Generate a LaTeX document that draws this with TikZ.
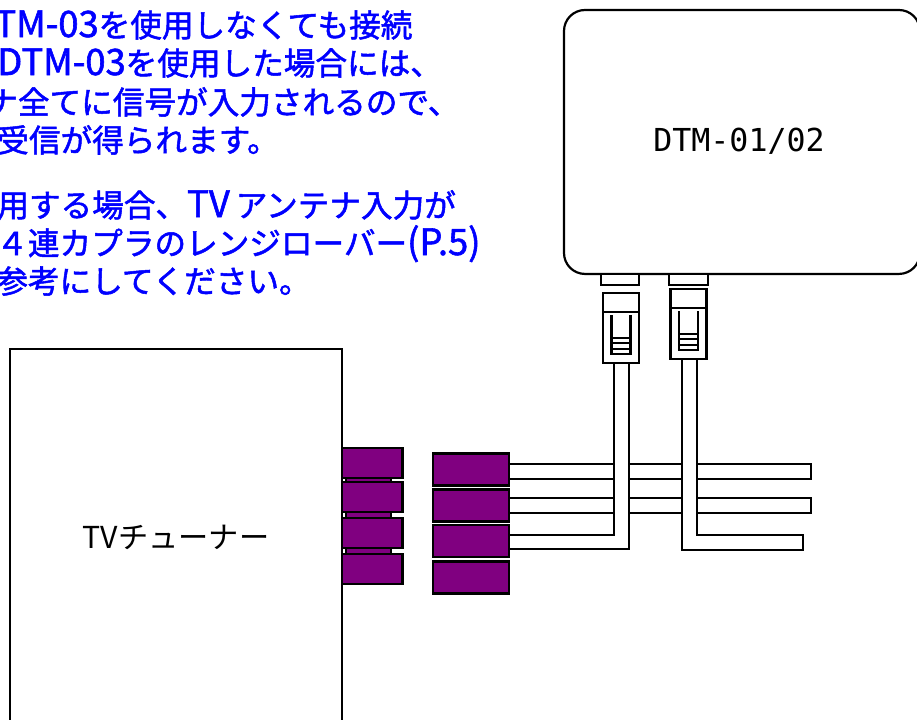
\documentclass[tikz,border=0pt]{standalone}
\usepackage{fontspec}
\setmainfont{Noto Sans CJK JP}
\newfontfamily\notefont[FakeBold=1.6]{Noto Sans CJK JP}
\newfontfamily\devicefont{DejaVu Sans Mono}

\definecolor{couplerpurple}{RGB}{128,0,128}
\definecolor{noteblue}{RGB}{0,0,255}

\newcommand{\widelatin}[1]{{\fontsize{20.7}{20}\selectfont #1}}

\tikzset{
  wire/.style={line width=1.25pt, black},
  cable/.style={wire, fill=white},
  partbox/.style={draw=black, line width=1.25pt, fill=white, inner sep=0pt, outer sep=0pt},
  coupler/.style={partbox, fill=couplerpurple},
  note/.style={anchor=base west, text=noteblue, font=\notefont\fontsize{18}{20}\selectfont, inner sep=0pt}
}

\begin{document}
\begin{tikzpicture}[x=0.02cm, y=-0.02cm]
  \useasboundingbox (0,0) rectangle (917,720);
  \clip (0,0) rectangle (917,720);

  % Notes
  \foreach \n/\xa/\ya/\txt in {
    a/-30/37/\widelatin{DTM-03}を使用しなくても接続,
    b/-3/75/\widelatin{DTM-03}を使用した場合には、,
    c/-14/114/ナ全てに信号が入力されるので、,
    d/-3/152/受信が得られます。,
    e/-3/217/用する場合、\widelatin{TV}\hspace{3.4pt}アンテナ入力が,
    f/-4/255/４連カプラのレンジローバー\widelatin{(P.5)},
    g/-4/293/参考にしてください。}
    \node[note] (note\n) at (\xa,\ya) {\txt};

  % TV tuner
  \node[partbox, line width=0.9pt, minimum width=6.64cm, minimum height=8cm, anchor=north west] (tuner) at (10,349) {};
  \node[font=\fontsize{17.2}{18}\selectfont] (tunerlabel) at (176,537) {TVチューナー};

  % DTM unit
  \node[partbox, rounded corners=0.42cm, minimum width=7.12cm, minimum height=5.28cm, anchor=north west] (unit) at (564,10) {};
  \node[font=\devicefont\fontsize{18}{20}\selectfont] (unitlabel) at (739,141) {DTM-01/02};

  % Cable ends
  \coordinate (sideAt) at (811,464);
  \coordinate (sideAb) at (509,479);
  \coordinate (sideBt) at (811,498);
  \coordinate (sideBb) at (509,513);
  \coordinate (cableAl) at (614,363);
  \coordinate (cableAr) at (629,363);
  \coordinate (cableBl) at (682,359);
  \coordinate (cableBr) at (697,359);
  \coordinate (cableAu) at (509,535);
  \coordinate (cableAd) at (509,549);
  \coordinate (cableBu) at (803,535);
  \coordinate (cableBd) at (803,550);

  % Cables
  \draw[cable] (sideAb) rectangle (sideAt);
  \draw[cable] (sideBb) rectangle (sideBt);
  \draw[cable] (cableAl) |- (cableAu) -- (cableAd) -| (cableAr);
  \draw[cable] (cableBl) |- (cableBd) -- (cableBu) -| (cableBr);

  % Jacks
  \node[partbox, minimum width=0.76cm, minimum height=0.22cm, anchor=north] (jackA) at (620,274) {};
  \node[partbox, minimum width=0.78cm, minimum height=0.22cm, anchor=north] (jackB) at (688.5,274) {};

  % Plugs
  \foreach \n/\xa/\ya in {A/621/293, B/688.5/289}{
    \node[partbox, minimum width=0.72cm, minimum height=1.4cm, anchor=north] (plug\n) at (\xa,\ya) {};
    \draw[wire] (plug\n.north west) ++(0,19) -- ++(36,0);
    \draw[wire] (\xa-9.5,\ya+22) -- (\xa-9.5,\ya+61) -- (\xa+9.5,\ya+61) -- (\xa+9.5,\ya+22);
    \foreach \yb in {45,50,56}
      \draw[wire] (\xa-9.5,\ya+\yb) -- (\xa+9.5,\ya+\yb);
  }

  % Tuner connectors
  \foreach \n/\ya in {a/480, b/515, c/551}
    \node[coupler, minimum width=0.9cm, minimum height=0.14cm] (neck\n) at (368.5,\ya) {};
  \foreach \n/\ya in {a/463, b/497, c/533, d/569}
    \node[coupler, minimum width=1.21cm, minimum height=0.6cm] (portt\n) at (372.25,\ya) {};

  % Cable connectors
  \foreach \n/\ya in {a/469.5, b/505.5, c/541, d/577.5}
    \node[coupler, minimum width=1.52cm, minimum height=0.64cm] (plugc\n) at (471,\ya) {};
\end{tikzpicture}
\end{document}
